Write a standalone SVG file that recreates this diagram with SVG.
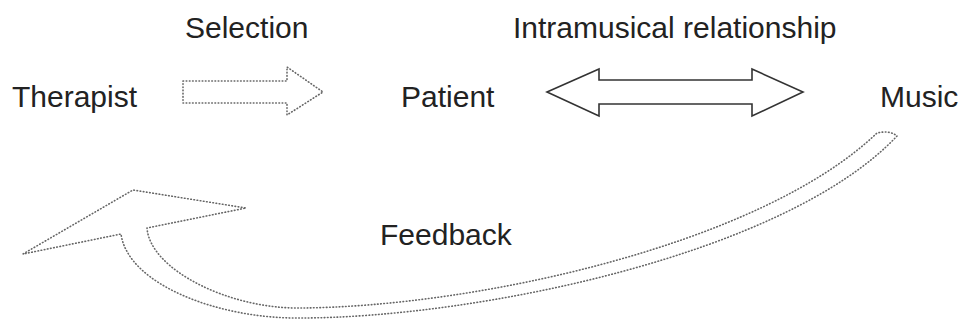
<svg xmlns="http://www.w3.org/2000/svg" width="961" height="321" viewBox="0 0 961 321">
<style>
text{font-family:"Liberation Sans",Arial,sans-serif;font-size:30px;fill:#222}
.dot{fill:none;stroke:#666;stroke-width:1.6;stroke-dasharray:0.6 2.6;stroke-linecap:round;stroke-linejoin:round}
.solid{fill:none;stroke:#333;stroke-width:1.6;stroke-linejoin:miter}
</style>
<rect width="961" height="321" fill="#fff"/>
<g id="therapist"><text x="12" y="107">Therapist</text></g>
<g id="patient"><text x="401" y="107">Patient</text></g>
<g id="music"><text x="880" y="107">Music</text></g>
<g id="connectors">
<g id="selection">
<path class="dot" d="M183,81 L287,81 L287,67 L323,92 L287,115 L287,103 L183,103 Z"/>
<text x="185" y="38">Selection</text>
</g>
<g id="intramusical">
<path class="solid" d="M547,92 L599,69 L599,80 L752,80 L752,69 L803,92 L752,116 L752,104 L599,104 L599,116 Z"/>
<text x="513" y="38">Intramusical relationship</text>
</g>
<g id="feedback">
<path class="dot" d="M897,136 C785,255 474,318 300,318 C220,319 128,285 121,234 L23,254 L133,190 L246,208 L147,228 C150,270 230,309 300,308 C474,307 760,245 877,133 Q890,130 897,136 Z"/>
<text x="380" y="245">Feedback</text>
</g>
</g>
</svg>
